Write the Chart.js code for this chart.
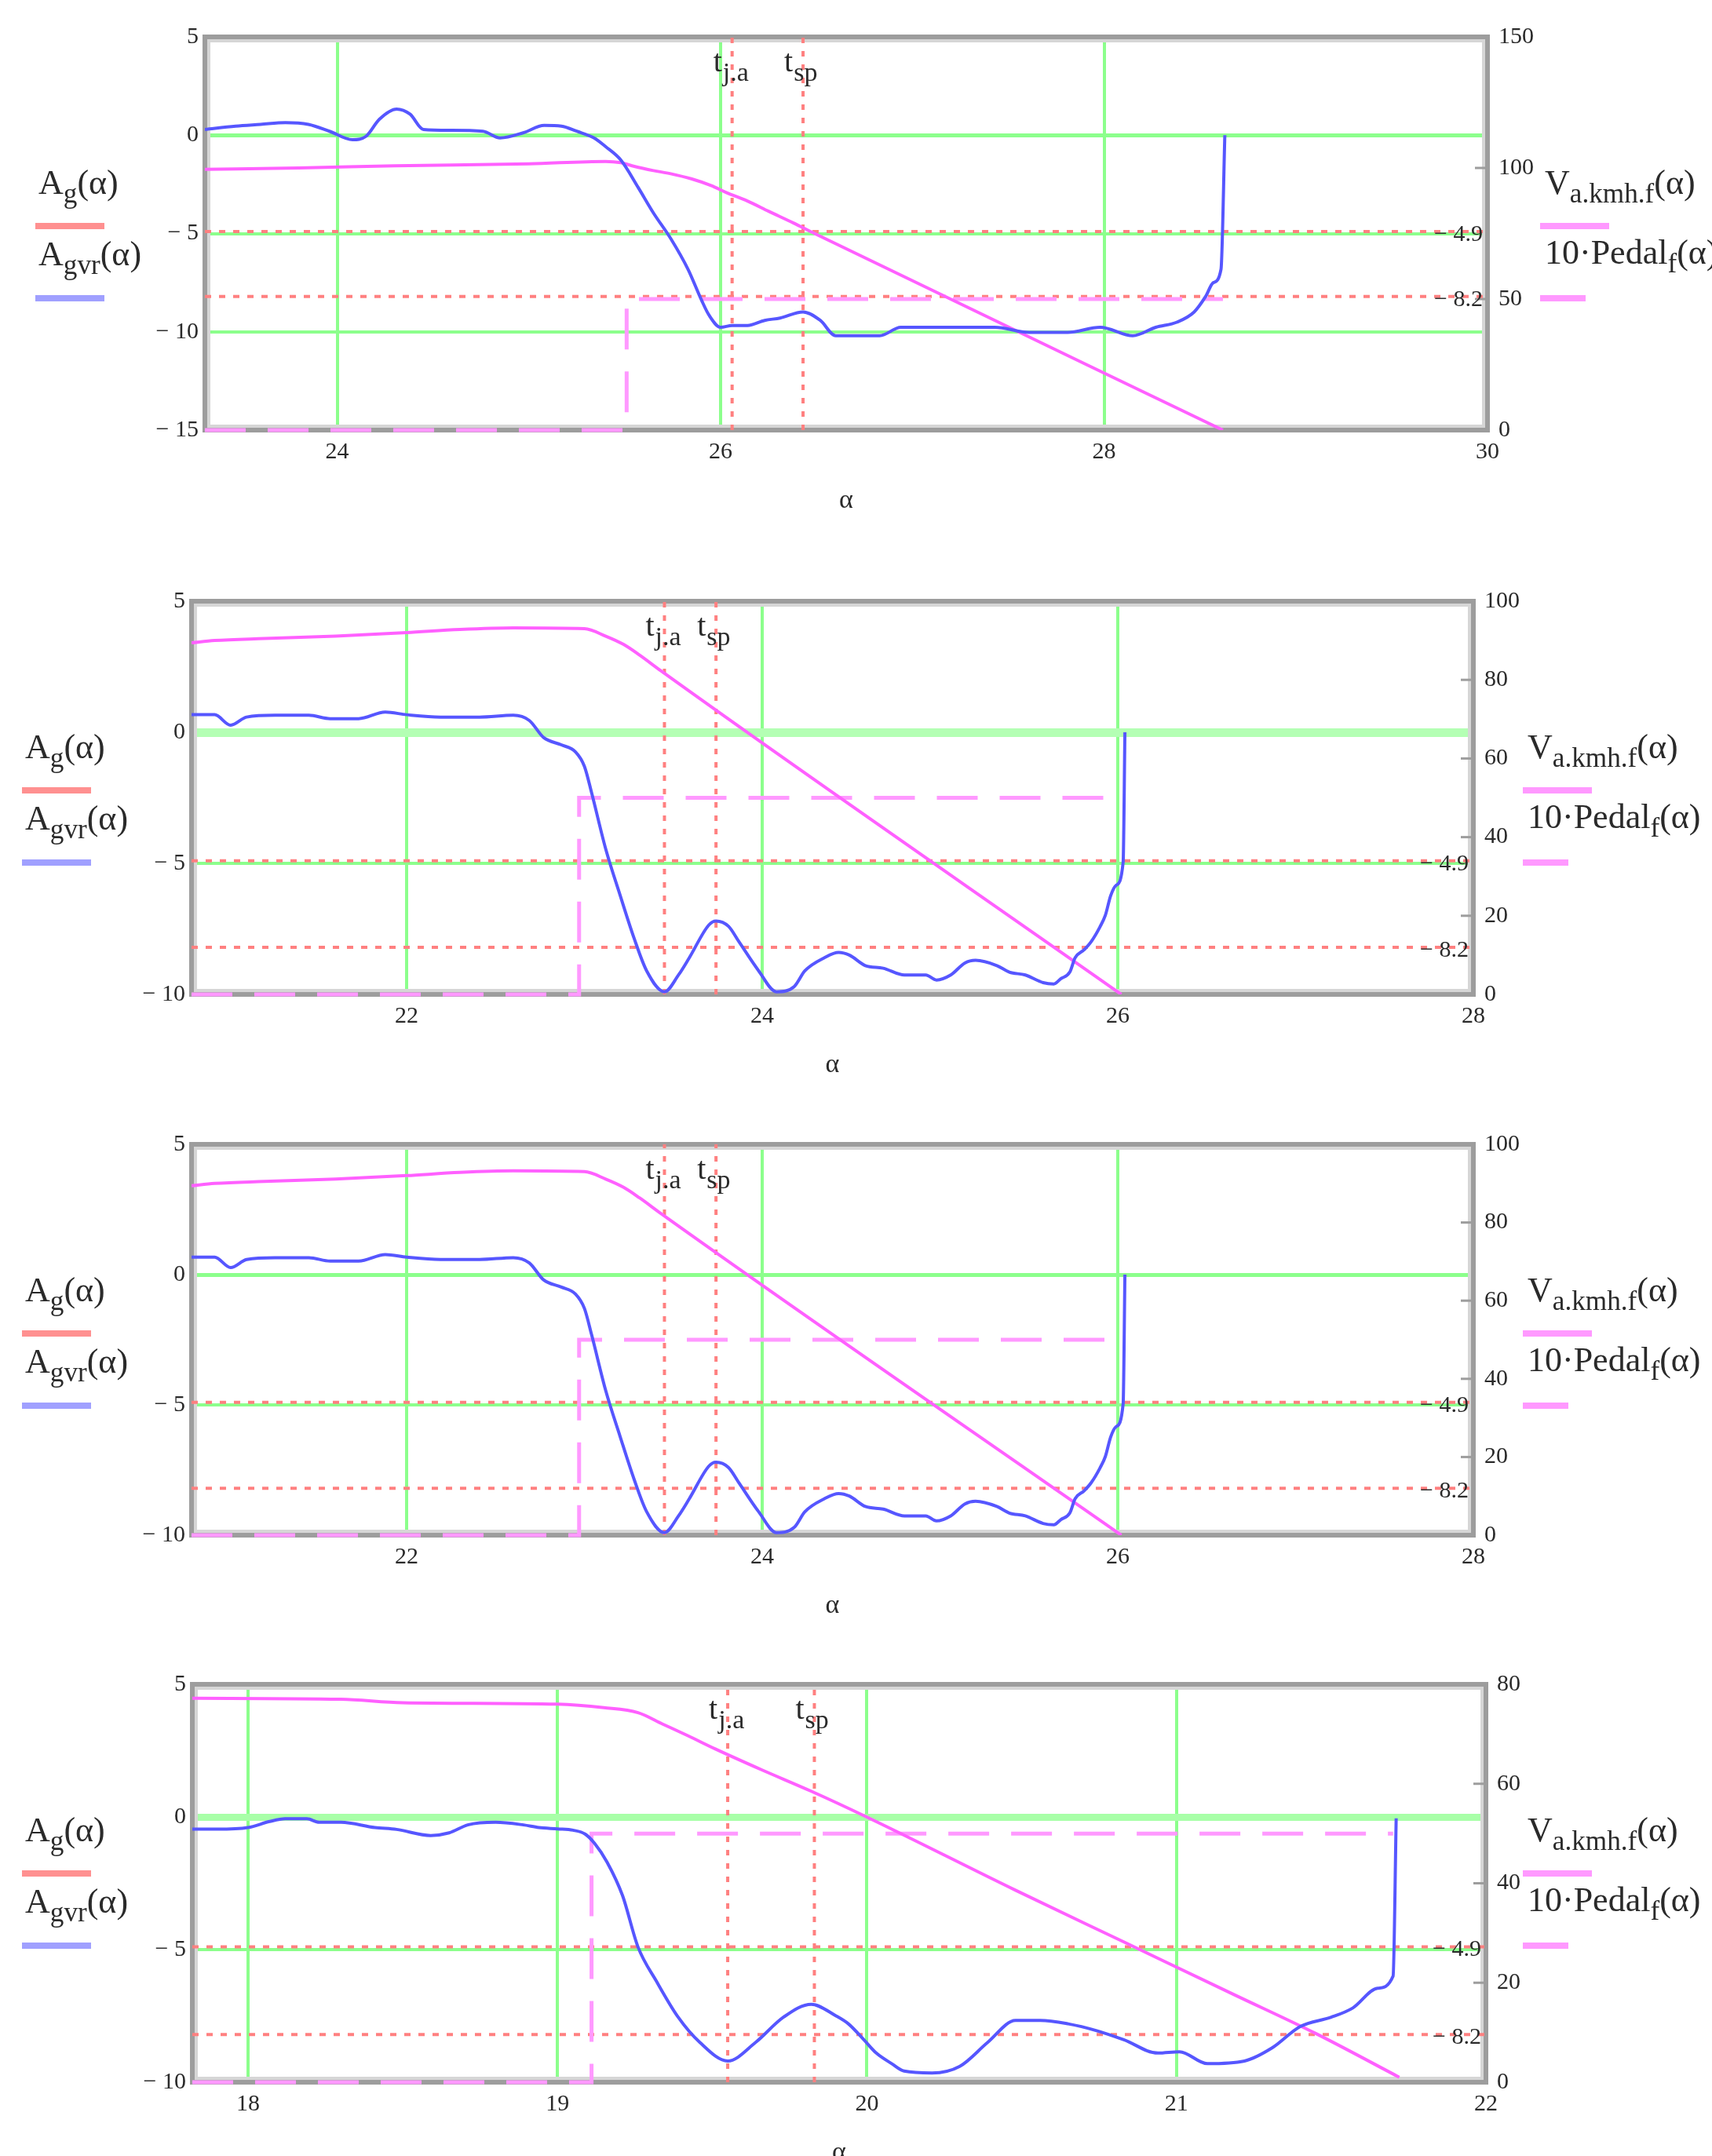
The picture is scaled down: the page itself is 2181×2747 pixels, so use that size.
<!DOCTYPE html>
<html>
<head>
<meta charset="utf-8">
<script src="https://cdn.jsdelivr.net/npm/chart.js@4.4.0/dist/chart.umd.min.js"></script>
<style>
  html, body { margin: 0; padding: 0; background: #fff; }
  #page { position: relative; width: 2181px; height: 2747px; overflow: hidden; }
  canvas { position: absolute; left: 0; }
  .leg { position: absolute; font-family: 'Liberation Serif', serif; font-size: 44px; line-height: 1; color: #2a2a2a; white-space: nowrap; z-index: 2; }
  .leg sub { font-size: 0.8em; vertical-align: -0.3em; line-height: 0; }
  .bar { position: absolute; height: 8px; width: 88px; z-index: 2; }
</style>
</head>
<body>
<div id="page"></div>
<script>
// ---- panel 1 ----
const p1Alpha = [23.31, 23.47, 23.6, 23.73, 23.85, 23.96, 24.08, 24.15, 24.22, 24.31, 24.38, 24.45, 24.59, 24.76, 24.85, 24.97, 25.08, 25.17, 25.25, 25.34, 25.40, 25.48, 25.57, 25.65, 25.74, 25.83, 25.90, 25.94, 26.00, 26.06, 26.14, 26.23, 26.31, 26.43, 26.52, 26.60, 26.72, 26.83, 26.94, 27.23, 27.43, 27.61, 27.81, 27.98, 28.15, 28.27, 28.38, 28.47, 28.53, 28.57, 28.61, 28.63];
const p1Agvr = [0.29, 0.46, 0.55, 0.64, 0.55, 0.2, -0.23, -0.06, 0.81, 1.33, 1.07, 0.29, 0.25, 0.2, -0.14, 0.12, 0.5, 0.46, 0.2, -0.14, -0.58, -1.27, -2.66, -3.96, -5.26, -6.82, -8.38, -9.16, -9.77, -9.68, -9.68, -9.42, -9.3, -8.99, -9.42, -10.2, -10.2, -10.2, -9.77, -9.77, -9.77, -10.03, -10.03, -9.77, -10.2, -9.77, -9.51, -8.99, -8.2, -7.5, -6.82, 0];
const p1VAlpha = [23.31, 23.8, 24.3, 25.0, 25.4, 25.48, 25.55, 25.65, 25.74, 25.85, 25.95, 26.03, 26.14, 26.25, 26.38, 26.49, 28.62];
const p1V = [99.5, 100, 100.8, 101.6, 102.5, 102, 100.6, 99, 97.8, 95.8, 93.3, 90.6, 87.4, 83.5, 79, 75, 0];
const p1PedalAlpha = [23.31, 25.51, 25.51, 28.62];
const p1Pedal = [0, 0, 50, 50];
const p1Markers = [26.06, 26.43];
const p1XTicks = [24, 26, 28, 30];
const p1YTicks = [5, 0, -5, -10, -15];
const p1Y1Ticks = [0, 50, 100, 150];

// ---- panels 2 and 3 (same run) ----
const p2Alpha = [20.79, 20.92, 21.01, 21.10, 21.26, 21.45, 21.57, 21.73, 21.88, 22.0, 22.19, 22.41, 22.6, 22.69, 22.77, 22.87, 22.95, 23.0, 23.04, 23.12, 23.2, 23.28, 23.35, 23.45, 23.53, 23.59, 23.70, 23.74, 23.81, 23.87, 23.98, 24.08, 24.18, 24.24, 24.35, 24.43, 24.49, 24.58, 24.68, 24.80, 24.92, 24.98, 25.06, 25.14, 25.2, 25.32, 25.39, 25.48, 25.58, 25.64, 25.68, 25.73, 25.76, 25.81, 25.85, 25.90, 25.93, 25.96, 25.99, 26.03, 26.04];
const p2Agvr = [0.67, 0.67, 0.27, 0.58, 0.65, 0.65, 0.52, 0.52, 0.77, 0.67, 0.58, 0.58, 0.65, 0.45, -0.2, -0.48, -0.75, -1.3, -2.3, -4.46, -6.2, -7.87, -9.1, -9.9, -9.25, -8.6, -7.35, -7.2, -7.4, -8.0, -9.1, -9.9, -9.7, -9.1, -8.6, -8.4, -8.5, -8.9, -9.0, -9.26, -9.26, -9.45, -9.26, -8.8, -8.7, -8.9, -9.15, -9.26, -9.55, -9.6, -9.4, -9.15, -8.6, -8.3, -7.99, -7.42, -6.98, -6.23, -5.84, -4.96, 0];
const p2VAlpha = [20.79, 20.92, 21.2, 21.6, 22.0, 22.3, 22.6, 23.0, 23.12, 23.22, 23.31, 23.43, 26.02];
const p2V = [89.4, 90.0, 90.5, 91.1, 92.0, 92.8, 93.2, 93.0, 91.1, 89.0, 86.3, 82.3, 0];
const p2PedalAlpha = [20.79, 22.97, 22.97, 26.01];
const p2Pedal = [0, 0, 50, 50];
const p2Markers = [23.45, 23.74];
const p2XTicks = [22, 24, 26, 28];
const p2YTicks = [5, 0, -5, -10];
const p2Y1Ticks = [0, 20, 40, 60, 80, 100];

// ---- panel 4 ----
const p4Alpha = [17.82, 17.9, 18.0, 18.07, 18.12, 18.19, 18.23, 18.30, 18.41, 18.48, 18.59, 18.65, 18.71, 18.80, 18.89, 18.94, 19.0, 19.05, 19.09, 19.12, 19.16, 19.21, 19.26, 19.32, 19.39, 19.46, 19.55, 19.64, 19.73, 19.82, 19.90, 19.94, 19.99, 20.03, 20.08, 20.12, 20.21, 20.30, 20.39, 20.48, 20.56, 20.65, 20.74, 20.83, 20.94, 21.01, 21.10, 21.22, 21.31, 21.40, 21.50, 21.57, 21.65, 21.70, 21.71];
const p4Agvr = [-0.46, -0.46, -0.4, -0.17, -0.07, -0.07, -0.2, -0.2, -0.4, -0.47, -0.7, -0.6, -0.3, -0.2, -0.3, -0.4, -0.45, -0.5, -0.65, -1.0, -1.7, -2.96, -4.9, -6.2, -7.55, -8.5, -9.2, -8.5, -7.55, -7.06, -7.5, -7.8, -8.4, -8.9, -9.3, -9.58, -9.65, -9.4, -8.5, -7.67, -7.67, -7.8, -8.05, -8.4, -8.9, -8.85, -9.3, -9.2, -8.7, -7.9, -7.55, -7.2, -6.46, -6.0, -0.05];
const p4VAlpha = [17.82, 18.3, 18.5, 19.0, 19.15, 19.26, 19.34, 19.42, 19.51, 19.66, 19.82, 20.0, 20.48, 20.83, 21.19, 21.45, 21.72];
const p4V = [77.2, 77, 76.3, 76, 75.3, 74.3, 72, 69.7, 67, 62.8, 58.5, 53.3, 38.6, 28.2, 17.5, 9.8, 1.0];
const p4PedalAlpha = [17.82, 19.11, 19.11, 21.70];
const p4Pedal = [0, 0, 50, 50];
const p4Markers = [19.55, 19.83];
const p4XTicks = [18, 19, 20, 21, 22];
const p4YTicks = [5, 0, -5, -10];
const p4Y1Ticks = [0, 20, 40, 60, 80];

const markerNames = ['j.a', 'sp'];
const markerLevels = [-4.9, -8.2];

const GREEN = '#8cff8c';
const CLEAR = 'rgba(0,0,0,0)';
const SERIF = '"Liberation Serif", "Times New Roman", serif';
const TEXT = '#2a2a2a';
const CANVAS_H = 700;
const XBOX = 110;

const panels = [
  { top: 0, area: { left: 261, right: 1895, top: 47, bottom: 548 }, xMin: 23.31, xMax: 30, yMin: -15, yMax: 5, y1Max: 150,
    alpha: p1Alpha, agvr: p1Agvr, vAlpha: p1VAlpha, v: p1V, pedAlpha: p1PedalAlpha, ped: p1Pedal, markers: p1Markers,
    xTicks: p1XTicks, yTicks: p1YTicks, y1Ticks: p1Y1Ticks, zeroW: 5, zeroColor: GREEN, legLeft: 45, rlegLeft: 1962 },
  { top: 700, area: { left: 244, right: 1877, top: 766, bottom: 1267 }, xMin: 20.79, xMax: 28, yMin: -10, yMax: 5, y1Max: 100,
    alpha: p2Alpha, agvr: p2Agvr, vAlpha: p2VAlpha, v: p2V, pedAlpha: p2PedalAlpha, ped: p2Pedal, markers: p2Markers,
    xTicks: p2XTicks, yTicks: p2YTicks, y1Ticks: p2Y1Ticks, zeroW: 11, zeroColor: '#b4ffb4', legLeft: 28, rlegLeft: 1940 },
  { top: 1390, area: { left: 244, right: 1877, top: 1458, bottom: 1956 }, xMin: 20.79, xMax: 28, yMin: -10, yMax: 5, y1Max: 100,
    alpha: p2Alpha, agvr: p2Agvr, vAlpha: p2VAlpha, v: p2V, pedAlpha: p2PedalAlpha, ped: p2Pedal, markers: p2Markers,
    xTicks: p2XTicks, yTicks: p2YTicks, y1Ticks: p2Y1Ticks, zeroW: 5, zeroColor: GREEN, legLeft: 28, rlegLeft: 1940 },
  { top: 2080, area: { left: 245, right: 1893, top: 2146, bottom: 2653 }, xMin: 17.82, xMax: 22, yMin: -10, yMax: 5, y1Max: 80,
    alpha: p4Alpha, agvr: p4Agvr, vAlpha: p4VAlpha, v: p4V, pedAlpha: p4PedalAlpha, ped: p4Pedal, markers: p4Markers,
    xTicks: p4XTicks, yTicks: p4YTicks, y1Ticks: p4Y1Ticks, zeroW: 9, zeroColor: '#a8ffa8', legLeft: 28, rlegLeft: 1940 }
];

const fmt = v => v < 0 ? '\u2212 ' + Math.abs(v) : String(v);
const pts = (xs, ys) => xs.map((x, i) => ({ x: x, y: ys[i] }));

// mathcad style frame, marker captions and level values
const mathcadFrame = {
  id: 'mathcadFrame',
  beforeDatasetsDraw(chart) {
    const { ctx, chartArea: a } = chart;
    ctx.save();
    ctx.strokeStyle = '#d6d6d6';
    ctx.lineWidth = 4;
    ctx.strokeRect(a.left + 5, a.top + 5, a.right - a.left - 10, a.bottom - a.top - 10);
    ctx.strokeStyle = '#9d9d9d';
    ctx.lineWidth = 6;
    ctx.strokeRect(a.left, a.top, a.right - a.left, a.bottom - a.top);
    const y1 = chart.scales.y1;
    ctx.lineWidth = 3;
    y1.ticks.forEach(t => {
      if (t.value === y1.min || t.value === y1.max) return;
      const py = y1.getPixelForValue(t.value);
      ctx.beginPath();
      ctx.moveTo(a.right - 16, py);
      ctx.lineTo(a.right, py);
      ctx.stroke();
    });
    ctx.restore();
  },
  afterDatasetsDraw(chart, args, opts) {
    const { ctx, chartArea: a } = chart;
    const x = chart.scales.x, y = chart.scales.y;
    ctx.save();
    ctx.fillStyle = TEXT;
    opts.markers.forEach((m, i) => {
      const px = x.getPixelForValue(m) - 24;
      ctx.font = '40px ' + SERIF;
      ctx.fillText('t', px, a.top + 44);
      const tw = ctx.measureText('t').width;
      ctx.font = '34px ' + SERIF;
      ctx.fillText(markerNames[i], px + tw + 1, a.top + 56);
    });
    ctx.font = '30px ' + SERIF;
    ctx.textAlign = 'right';
    ctx.textBaseline = 'middle';
    markerLevels.forEach(v => {
      ctx.fillText(fmt(v), a.right - 6, y.getPixelForValue(v) + 4);
    });
    ctx.restore();
  }
};

const page = document.getElementById('page');

panels.forEach(p => {
  const canvas = document.createElement('canvas');
  canvas.width = 2181;
  canvas.height = CANVAS_H;
  canvas.style.top = p.top + 'px';
  page.appendChild(canvas);

  const a = p.area;
  const datasets = [
    { data: pts(p.alpha, p.agvr), yAxisID: 'y', borderColor: '#5656ff', borderWidth: 4, cubicInterpolationMode: 'monotone' },
    { data: pts(p.vAlpha, p.v), yAxisID: 'y1', borderColor: '#ff60ff', borderWidth: 4, cubicInterpolationMode: 'monotone' },
    { data: pts(p.pedAlpha, p.ped), yAxisID: 'y1', borderColor: '#ff99ff', borderWidth: 5, borderDash: [52, 28], clip: 8 }
  ];
  p.markers.forEach(m => datasets.push({
    data: [{ x: m, y: p.yMin }, { x: m, y: p.yMax }], yAxisID: 'y',
    borderColor: '#ff8080', borderWidth: 4, borderDash: [7, 10]
  }));
  markerLevels.forEach(v => datasets.push({
    data: [{ x: p.xMin, y: v }, { x: p.xMax, y: v }], yAxisID: 'y',
    borderColor: '#ff8080', borderWidth: 4, borderDash: [8, 10]
  }));

  new Chart(canvas.getContext('2d'), {
    type: 'line',
    data: { datasets: datasets },
    options: {
      responsive: false,
      animation: false,
      devicePixelRatio: 1,
      events: [],
      elements: { point: { radius: 0 }, line: { tension: 0, fill: false } },
      layout: { padding: { left: 0, right: 0, top: a.top - p.top, bottom: CANVAS_H - (a.bottom - p.top) - XBOX } },
      scales: {
        x: {
          type: 'linear', min: p.xMin, max: p.xMax,
          afterBuildTicks: s => { s.ticks = p.xTicks.map(v => ({ value: v })); },
          afterFit: s => { s.height = XBOX; s.paddingLeft = 0; s.paddingRight = 0; },
          grid: { drawTicks: false, lineWidth: 4, color: c => (c.tick && c.tick.value < p.xMax - 1e-6) ? GREEN : CLEAR },
          border: { display: false },
          ticks: { autoSkip: false, maxRotation: 0, padding: 10, color: TEXT, font: { family: SERIF, size: 30 }, callback: v => fmt(v) },
          title: { display: true, text: 'α', color: TEXT, font: { family: SERIF, size: 34 }, padding: 0 }
        },
        y: {
          type: 'linear', position: 'left', min: p.yMin, max: p.yMax,
          afterBuildTicks: s => { s.ticks = p.yTicks.map(v => ({ value: v })); },
          afterFit: s => { s.width = a.left; },
          grid: {
            drawTicks: false,
            lineWidth: c => (c.tick && c.tick.value === 0) ? p.zeroW : 4,
            color: c => {
              if (!c.tick || c.tick.value === p.yMin || c.tick.value === p.yMax) return CLEAR;
              return c.tick.value === 0 ? p.zeroColor : GREEN;
            }
          },
          border: { display: false },
          ticks: { autoSkip: false, padding: 8, color: TEXT, font: { family: SERIF, size: 30 }, callback: v => fmt(v) }
        },
        y1: {
          type: 'linear', position: 'right', min: 0, max: p.y1Max,
          afterBuildTicks: s => { s.ticks = p.y1Ticks.map(v => ({ value: v })); },
          afterFit: s => { s.width = 2181 - a.right; },
          grid: { display: false },
          border: { display: false },
          ticks: { autoSkip: false, padding: 6, color: TEXT, font: { family: SERIF, size: 30 }, callback: v => fmt(v) }
        }
      },
      plugins: {
        legend: { display: false },
        tooltip: { enabled: false },
        mathcadFrame: { markers: p.markers }
      }
    },
    plugins: [mathcadFrame]
  });

  // legends beside the plot
  const ct = a.top;
  const leg = (html, left, top) => {
    const d = document.createElement('div');
    d.className = 'leg';
    d.innerHTML = html;
    d.style.left = left + 'px';
    d.style.top = top + 'px';
    page.appendChild(d);
  };
  const bar = (left, top, color, width) => {
    const d = document.createElement('div');
    d.className = 'bar';
    d.style.left = left + 'px';
    d.style.top = top + 'px';
    d.style.background = color;
    if (width) d.style.width = width + 'px';
    page.appendChild(d);
  };
  leg('A<sub>g</sub>(α)', p.legLeft + 4, ct + 164);
  bar(p.legLeft, ct + 237, '#ff9090');
  leg('A<sub>gvr</sub>(α)', p.legLeft + 4, ct + 255);
  bar(p.legLeft, ct + 329, '#a0a0ff');
  leg('V<sub>a.kmh.f</sub>(α)', p.rlegLeft + 6, ct + 164);
  bar(p.rlegLeft, ct + 237, '#ff99ff');
  leg('10·Pedal<sub>f</sub>(α)', p.rlegLeft + 6, ct + 253);
  bar(p.rlegLeft, ct + 329, '#ff99ff', 58);
});
</script>
</body>
</html>
